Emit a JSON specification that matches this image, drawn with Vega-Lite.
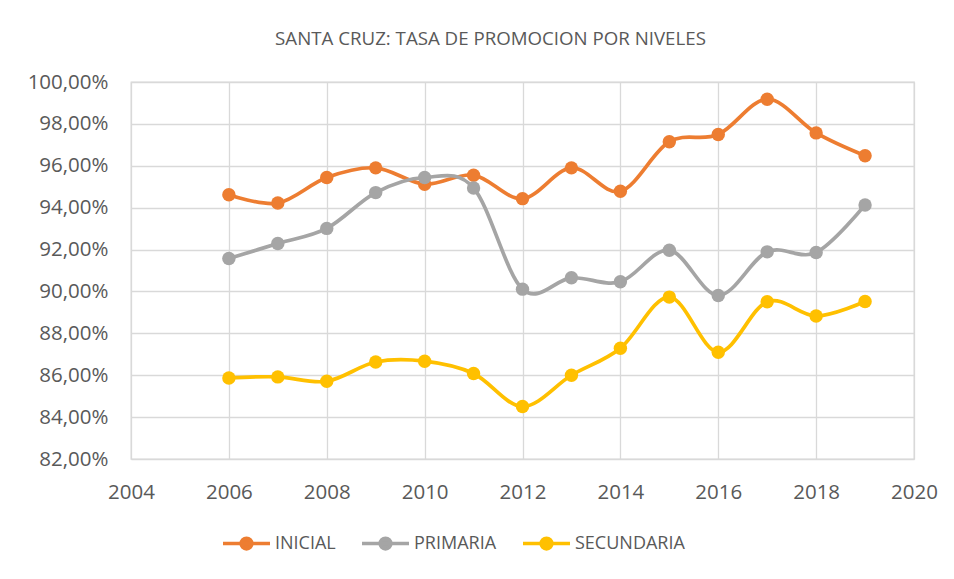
{
  "$schema": "https://vega.github.io/schema/vega-lite/v6.json",
  "width": 783,
  "height": 377,
  "autosize": {"type": "none"},
  "padding": {"left": 131, "top": 82, "right": 40, "bottom": 120},
  "background": "white",
  "config": {
    "font": "Open Sans",
    "view": {"stroke": "#d9d9d9", "strokeWidth": 1.3}
  },
  "title": {
    "text": "SANTA CRUZ: TASA DE PROMOCION POR NIVELES",
    "font": "Open Sans",
    "fontSize": 18.7,
    "fontWeight": "normal",
    "color": "#595959",
    "anchor": "middle",
    "baseline": "alphabetic",
    "offset": 8,
    "dx": -32
  },
  "data": {
    "values": [
      {"anio": 2006, "nivel": "INICIAL", "tasa": 94.62},
      {"anio": 2007, "nivel": "INICIAL", "tasa": 94.22},
      {"anio": 2008, "nivel": "INICIAL", "tasa": 95.44},
      {"anio": 2009, "nivel": "INICIAL", "tasa": 95.90},
      {"anio": 2010, "nivel": "INICIAL", "tasa": 95.12},
      {"anio": 2011, "nivel": "INICIAL", "tasa": 95.55},
      {"anio": 2012, "nivel": "INICIAL", "tasa": 94.43},
      {"anio": 2013, "nivel": "INICIAL", "tasa": 95.90},
      {"anio": 2014, "nivel": "INICIAL", "tasa": 94.78},
      {"anio": 2015, "nivel": "INICIAL", "tasa": 97.15},
      {"anio": 2016, "nivel": "INICIAL", "tasa": 97.49},
      {"anio": 2017, "nivel": "INICIAL", "tasa": 99.18},
      {"anio": 2018, "nivel": "INICIAL", "tasa": 97.57},
      {"anio": 2019, "nivel": "INICIAL", "tasa": 96.48},
      {"anio": 2006, "nivel": "PRIMARIA", "tasa": 91.57},
      {"anio": 2007, "nivel": "PRIMARIA", "tasa": 92.29},
      {"anio": 2008, "nivel": "PRIMARIA", "tasa": 93.01},
      {"anio": 2009, "nivel": "PRIMARIA", "tasa": 94.72},
      {"anio": 2010, "nivel": "PRIMARIA", "tasa": 95.44},
      {"anio": 2011, "nivel": "PRIMARIA", "tasa": 94.94},
      {"anio": 2012, "nivel": "PRIMARIA", "tasa": 90.11},
      {"anio": 2013, "nivel": "PRIMARIA", "tasa": 90.65},
      {"anio": 2014, "nivel": "PRIMARIA", "tasa": 90.46},
      {"anio": 2015, "nivel": "PRIMARIA", "tasa": 91.97},
      {"anio": 2016, "nivel": "PRIMARIA", "tasa": 89.81},
      {"anio": 2017, "nivel": "PRIMARIA", "tasa": 91.89},
      {"anio": 2018, "nivel": "PRIMARIA", "tasa": 91.86},
      {"anio": 2019, "nivel": "PRIMARIA", "tasa": 94.13},
      {"anio": 2006, "nivel": "SECUNDARIA", "tasa": 85.87},
      {"anio": 2007, "nivel": "SECUNDARIA", "tasa": 85.92},
      {"anio": 2008, "nivel": "SECUNDARIA", "tasa": 85.71},
      {"anio": 2009, "nivel": "SECUNDARIA", "tasa": 86.63},
      {"anio": 2010, "nivel": "SECUNDARIA", "tasa": 86.67},
      {"anio": 2011, "nivel": "SECUNDARIA", "tasa": 86.08},
      {"anio": 2012, "nivel": "SECUNDARIA", "tasa": 84.51},
      {"anio": 2013, "nivel": "SECUNDARIA", "tasa": 86.00},
      {"anio": 2014, "nivel": "SECUNDARIA", "tasa": 87.29},
      {"anio": 2015, "nivel": "SECUNDARIA", "tasa": 89.73},
      {"anio": 2016, "nivel": "SECUNDARIA", "tasa": 87.10},
      {"anio": 2017, "nivel": "SECUNDARIA", "tasa": 89.51},
      {"anio": 2018, "nivel": "SECUNDARIA", "tasa": 88.83},
      {"anio": 2019, "nivel": "SECUNDARIA", "tasa": 89.52}
    ]
  },
  "encoding": {
    "x": {
      "field": "anio",
      "type": "quantitative",
      "scale": {"domain": [2004, 2020], "nice": false, "zero": false},
      "axis": {
        "title": null,
        "values": [2004, 2006, 2008, 2010, 2012, 2014, 2016, 2018, 2020],
        "format": "d",
        "domain": false,
        "ticks": false,
        "tickSize": 0,
        "grid": true,
        "gridColor": "#d9d9d9",
        "gridWidth": 1.3,
        "labelFont": "Open Sans",
        "labelFontSize": 20.5,
        "labelColor": "#595959",
        "labelBaseline": "alphabetic",
        "labelPadding": 39,
        "labelFlush": false,
        "labelOverlap": false
      }
    },
    "y": {
      "field": "tasa",
      "type": "quantitative",
      "scale": {"domain": [82, 100], "nice": false, "zero": false},
      "axis": {
        "title": null,
        "values": [82, 84, 86, 88, 90, 92, 94, 96, 98, 100],
        "labelExpr": "replace(format(datum.value, '.2f'), '.', ',') + '%'",
        "domain": false,
        "ticks": false,
        "tickSize": 0,
        "grid": true,
        "gridColor": "#d9d9d9",
        "gridWidth": 1.3,
        "labelFont": "Open Sans",
        "labelFontSize": 20.5,
        "labelColor": "#595959",
        "labelPadding": 23,
        "labelFlush": false,
        "labelOverlap": false
      }
    },
    "color": {
      "field": "nivel",
      "type": "nominal",
      "scale": {
        "domain": ["INICIAL", "PRIMARIA", "SECUNDARIA"],
        "range": ["#ED7D31", "#A5A5A5", "#FFC000"]
      },
      "legend": {
        "title": null,
        "orient": "none",
        "direction": "horizontal",
        "legendX": 90,
        "legendY": 436,
        "padding": 0,
        "symbolType": "M-1,0L1,0M0.23,0A0.23,0.23,0,1,1,-0.23,0A0.23,0.23,0,1,1,0.23,0Z",
        "symbolSize": 2209,
        "symbolStrokeWidth": 3.5,
        "symbolOpacity": 1,
        "labelFont": "Open Sans",
        "labelFontSize": 18,
        "labelColor": "#595959",
        "labelOffset": 3,
        "columnPadding": 19,
        "encode": {
          "symbols": {
            "update": {
              "fill": {"scale": "color", "field": "value"},
              "stroke": {"scale": "color", "field": "value"}
            }
          }
        }
      }
    }
  },
  "layer": [
    {"mark": {"type": "line", "interpolate": "cardinal", "strokeWidth": 3.7}},
    {"mark": {"type": "point", "filled": true, "size": 180, "opacity": 1}}
  ]
}
